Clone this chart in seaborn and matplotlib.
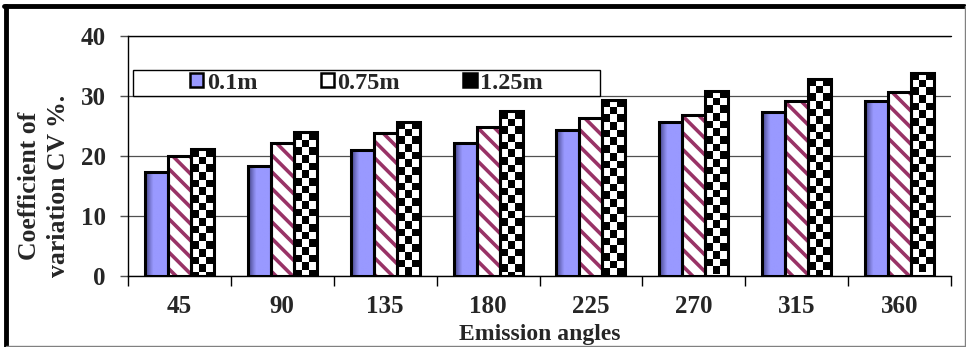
import numpy as np
import pandas as pd
import matplotlib
matplotlib.use("Agg")
import matplotlib.pyplot as plt
import seaborn as sns
from matplotlib.patches import Rectangle, Patch
from matplotlib.colors import LinearSegmentedColormap

angles = ["45", "90", "135", "180", "225", "270", "315", "360"]
series = ["0.1m", "0.75m", "1.25m"]
cv_01 = [17.3, 18.3, 21.0, 22.2, 24.3, 25.7, 27.4, 29.2]
cv_075 = [20.0, 22.2, 23.9, 24.8, 26.3, 26.8, 29.2, 30.6]
cv_125 = [21.1, 24.0, 25.7, 27.5, 29.4, 30.9, 32.9, 33.8]
yticks = [0, 10, 20, 30, 40]

df = pd.DataFrame({
    "angle": angles * 3,
    "series": [series[0]] * 8 + [series[1]] * 8 + [series[2]] * 8,
    "cv": cv_01 + cv_075 + cv_125,
})

sns.set_style("white")
plt.rcParams["font.family"] = ["Liberation Serif", "DejaVu Serif"]
plt.rcParams["font.weight"] = "bold"
plt.rcParams["hatch.linewidth"] = 2.6

fig = plt.figure(figsize=(9.66, 3.47), dpi=100)
ax = fig.add_axes([128 / 966, 1 - 276 / 347, 823 / 966, 240 / 347])

blue = "#9999ff"
mag = "#993366"
sns.barplot(data=df, x="angle", y="cv", hue="series", order=angles,
            hue_order=series, palette=[blue, "white", "white"],
            width=0.67, gap=0, ax=ax, legend=False, zorder=3,
            edgecolor="black", linewidth=2.2)

ax.set_xlim(-0.5, 7.5)
ax.set_ylim(0, 40)
ax.set_yticks(yticks)

c_blue, c_hat, c_chk = ax.containers[0], ax.containers[1], ax.containers[2]

# hatched bars: hatch in magenta, outline black
for p in c_hat.patches:
    p.set_edgecolor(mag)
    p.set_linewidth(0)
    p.set_hatch("\\\\")
    ol = Rectangle(p.get_xy(), p.get_width(), p.get_height(), fill=False,
                   ec="black", lw=2.2, zorder=4)
    ax.add_patch(ol)

# blue bars: slight gradient shading on left edge
grad = np.linspace(0.0, 1.0, 12)[None, :]
bcmap = LinearSegmentedColormap.from_list("b", ["#4a4a90", blue, blue, blue])
for p in c_blue.patches:
    x0, y0, w, h = p.get_x(), p.get_y(), p.get_width(), p.get_height()
    im = ax.imshow(grad, extent=[x0, x0 + w, y0, y0 + h], cmap=bcmap,
                   aspect="auto", interpolation="bilinear", zorder=3.1)
    im.set_clip_path(p)
    p.set_zorder(3.2)
    p.set_facecolor("none")

# checker bars
fig.canvas.draw()
for p in c_chk.patches:
    x0, y0, w, h = p.get_x(), p.get_y(), p.get_width(), p.get_height()
    (px0, py0), (px1, py1) = ax.transData.transform([(x0, y0), (x0 + w, y0 + h)])
    nx = 3
    cell = (px1 - px0) / nx
    ny = max(1, int(round((py1 - py0) / cell)))
    ii, jj = np.mgrid[0:ny, 0:nx]
    chk = ((ii + jj) % 2).astype(float)
    im = ax.imshow(chk, extent=[x0, x0 + w, y0 + h - ny * cell * h / (py1 - py0), y0 + h],
                   cmap="gray", vmin=0, vmax=1, aspect="auto",
                   interpolation="nearest", zorder=3.1)
    im.set_clip_path(p)
    p.set_facecolor("none")
    p.set_zorder(3.2)

ax.set_xlim(-0.5, 7.5)
ax.set_ylim(0, 40)

# grid and spines
ax.yaxis.grid(True, color="#505050", lw=0.9, zorder=0)
ax.set_axisbelow(True)
for s in ["top", "right"]:
    ax.spines[s].set_visible(False)
for s in ["left", "bottom"]:
    ax.spines[s].set_visible(True)
    ax.spines[s].set_color("black")
    ax.spines[s].set_linewidth(1.0)
ax.axhline(40, color="black", lw=1.0, zorder=1, clip_on=False)

ax.tick_params(axis="y", which="major", direction="out", length=6, width=1,
               color="#505050", labelsize=18, pad=10, left=True)
ax.set_xticks(np.arange(-0.5, 8.0, 1.0), minor=True)
ax.tick_params(axis="x", which="major", length=0, labelsize=18, pad=14)
ax.tick_params(axis="x", which="minor", direction="out", length=7, width=1,
               color="black", bottom=True)
for lbl in ax.get_xticklabels() + ax.get_yticklabels():
    lbl.set_fontweight("bold")

ax.set_xlabel("Emission angles", fontsize=17, fontweight="bold", labelpad=4)
ax.set_ylabel("")
fig.text(44 / 966, 1 - 186 / 347, "Coefficient of\nvariation CV %.", rotation=90,
         ha="center", va="center", fontsize=18.5, fontweight="bold",
         linespacing=1.35)

# legend
box = Rectangle((5 / 823, 0.75), 467 / 823, 0.108, transform=ax.transAxes,
                fc="white", ec="black", lw=1.0, zorder=5)
ax.add_patch(box)
handles = [
    Patch(facecolor=blue, edgecolor="black", lw=1.8),
    Patch(facecolor="white", edgecolor="black", lw=1.8),
    Patch(facecolor="black", edgecolor="black", lw=1.8),
]
leg = ax.legend(handles, series, ncol=3, loc="center",
                bbox_to_anchor=(5 / 823 + 467 / 1646, 0.804),
                frameon=False, handlelength=0.55, handleheight=0.55,
                handletextpad=0.15, columnspacing=2.6,
                prop={"weight": "bold", "size": 17.5})
leg.set_zorder(6)

# chart frame
fig.add_artist(plt.Line2D([6 / 966, 6 / 966], [1 - 6 / 347, 0], transform=fig.transFigure,
                          color="black", lw=3.5))
fig.add_artist(plt.Line2D([4 / 966, 964 / 966], [1 - 6 / 347, 1 - 6 / 347],
                          transform=fig.transFigure, color="black", lw=3.5))
fig.add_artist(plt.Line2D([964.5 / 966, 964.5 / 966], [1 - 6 / 347, 1 / 347],
                          transform=fig.transFigure, color="#808080", lw=1))
fig.add_artist(plt.Line2D([6 / 966, 965 / 966], [1.5 / 347, 1.5 / 347],
                          transform=fig.transFigure, color="#808080", lw=1))

fig.savefig("out.png", dpi=100)
